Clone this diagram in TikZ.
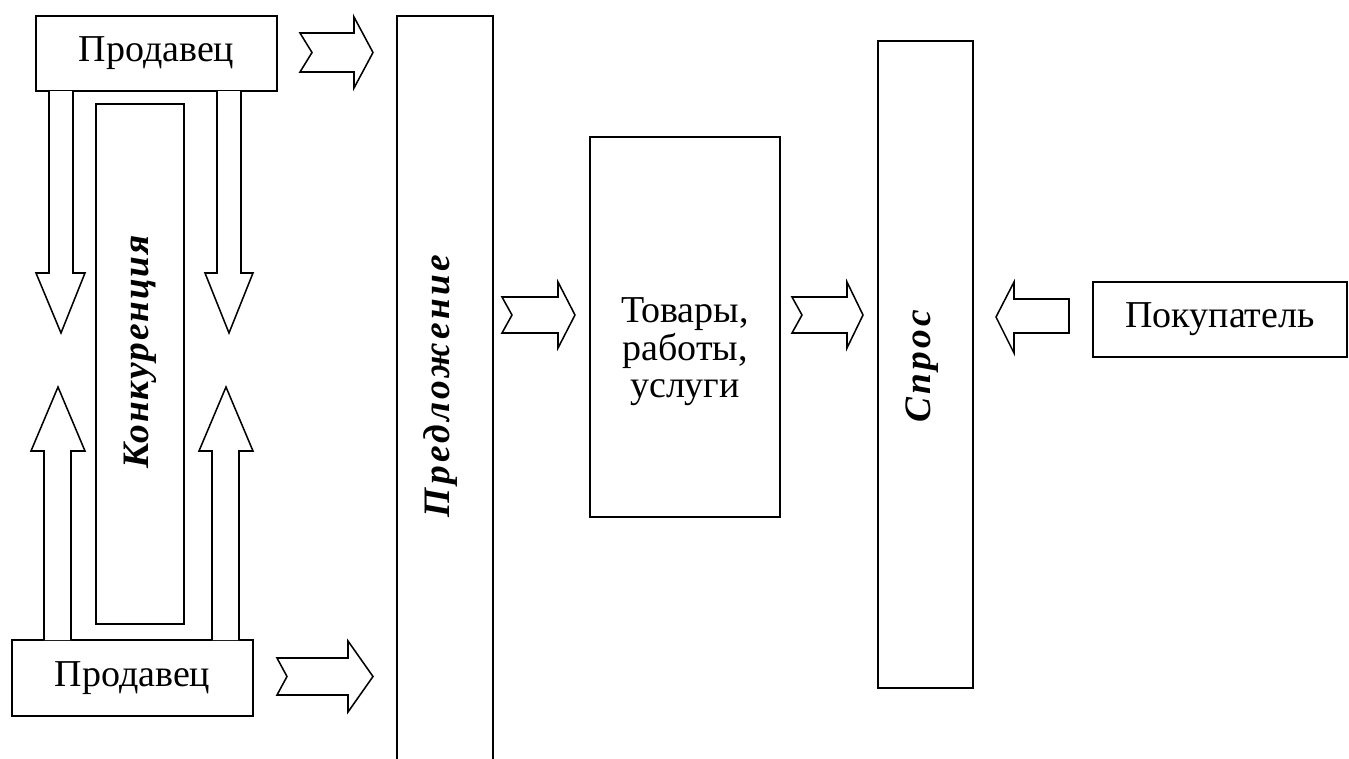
\documentclass[tikz,border=0pt]{standalone}
\usepackage{fontspec}
\setmainfont{Liberation Serif}
\newfontfamily\spacedA[LetterSpace=9]{Liberation Serif}
\newfontfamily\spacedB[LetterSpace=5]{Liberation Serif}
\begin{document}
\begin{tikzpicture}[x=0.75pt,y=-0.75pt,line width=1.15pt,line join=miter,
  bx/.style 2 args={draw,minimum width={#1*0.75pt},minimum height={#2*0.75pt},inner sep=0pt},
  reg/.style={font=\fontsize{28.5}{28.2}\selectfont},
  vert/.style={rotate=90,inner sep=0pt,font=\fontsize{28}{28}\selectfont\spacedA\bfseries\itshape},
  vertb/.style={rotate=90,inner sep=0pt,font=\fontsize{28}{28}\selectfont\spacedB\bfseries\itshape},
  barrow/.style={draw,fill=white}]
\useasboundingbox (0,0) rectangle (1349,758);
% boxes
\node[bx={241}{75},reg] (s1) at (156.5,53.5) {Продавец};
\node[bx={241}{76},reg] (s2) at (132.5,678) {Продавец};
\node[bx={88}{520}] (konk) at (140,364) {};
\node[vertb] (konkt) at (140,352) {Конкуренция};
\node[bx={96}{746}] (pred) at (445,389) {};
\node[vert] (predt) at (441,386) {Предложение};
\node[bx={190}{380}] (tov) at (685,327) {};
\node[reg,align=center] (tovt) at (685,352) {Товары,\\работы,\\услуги};
\node[bx={95}{647}] (spros) at (925.5,364.5) {};
\node[vert] (sprost) at (922,366) {Спрос};
\node[bx={254}{75},reg] (pok) at (1220,319.5) {Покупатель};
% down arrows
\draw[barrow] (49,91) -- (49,273) -- (36,273) -- (61,333) -- (85,273) -- (73,273) -- (73,91);
\draw[barrow] (217,91) -- (217,273) -- (205,273) -- (229,333) -- (253,273) -- (241,273) -- (241,91);
% up arrows
\draw[barrow] (44,640) -- (44,451) -- (31,451) -- (58,387) -- (85,451) -- (71,451) -- (71,640);
\draw[barrow] (212,640) -- (212,451) -- (199,451) -- (226,387) -- (253,451) -- (239,451) -- (239,640);
% notched right arrows
\draw[barrow] (300,33) -- (354,33) -- (354,17) -- (373,52.5) -- (354,88) -- (354,72) -- (300,72) -- (312,52.5) -- cycle;
\draw[barrow] (277,658) -- (348,658) -- (348,641) -- (373,676.5) -- (348,712) -- (348,695) -- (277,695) -- (287,676.5) -- cycle;
\draw[barrow] (502,297) -- (558,297) -- (558,282) -- (575,315) -- (558,348) -- (558,333) -- (502,333) -- (512,315) -- cycle;
\draw[barrow] (792,297) -- (847,297) -- (847,282) -- (863,315) -- (847,348) -- (847,333) -- (792,333) -- (802,315) -- cycle;
% left arrow
\draw[barrow] (1069,299) -- (1014,299) -- (1014,282) -- (996,317) -- (1014,353) -- (1014,333) -- (1069,333) -- cycle;
\end{tikzpicture}
\end{document}
